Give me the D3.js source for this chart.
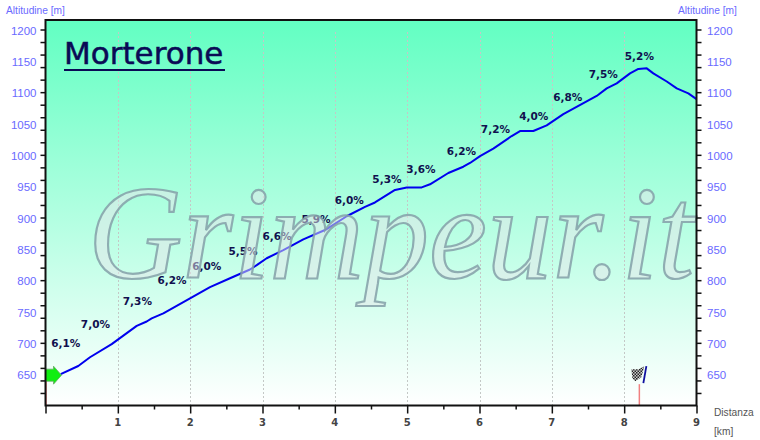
<!DOCTYPE html>
<html><head><meta charset="utf-8">
<script src="https://cdn.jsdelivr.net/npm/d3@7/dist/d3.min.js"></script>
<style>html,body{margin:0;padding:0;background:#fff}svg{display:block}</style>
</head><body><div id="c"></div>
<script>
const title = "Morterone";
const watermark = "Grimpeur.it";
const distanceKm = [0.21,0.453,0.615,0.915,1.261,1.399,1.468,1.629,1.998,2.274,2.551,2.827,2.92,3.058,3.288,3.564,3.864,4.164,4.417,4.555,4.832,4.994,5.201,5.316,5.569,5.776,5.869,6.007,6.191,6.445,6.56,6.744,6.929,7.159,7.62,7.759,7.897,8.081,8.196,8.312,8.403,8.589,8.727,8.887,9];
const altitudeM = [650,663,677,698,727,734,739,747,771,789,803,817,824,835,848,865,880,902,917,924,944,948,948,953,971,981,987,998,1010,1030,1038,1038,1047,1065,1094,1106,1114,1130,1137,1138,1130,1117,1106,1098,1089];
const gradeLabels = ["6,1%","7,0%","7,3%","6,2%","6,0%","5,5%","6,6%","5,9%","6,0%","5,3%","3,6%","6,2%","7,2%","4,0%","6,8%","7,5%","5,2%"];
const gradeKm = [0.28,0.69,1.27,1.75,2.23,2.73,3.20,3.74,4.20,4.72,5.19,5.75,6.22,6.75,7.22,7.71,8.21];
const gradeAlt = [700,730,766,800,823,847,871,898,928,961,977,1006,1041,1062,1092,1129,1158];
const yLabelTicks = [650,700,750,800,850,900,950,1000,1050,1100,1150,1200];
const yMinorTicks = d3.range(620,1201,20);
const xLabelTicks = [1,2,3,4,5,6,7,8,9];
const xMinorTicks = d3.range(0,9.01,0.5);
const startKm = 0, finishKm = 8.21, flagAlt = 650;

const W=760,H=440;
const x=d3.scaleLinear().domain([0,9]).range([45.5,696.5]);
const y=d3.scaleLinear().domain([600,1200]).range([405.5,29.5]);
const plotTop=20, plotBottom=y(600);
const svg=d3.select("#c").append("svg").attr("width",W).attr("height",H);
const defs=svg.append("defs");
const g=defs.append("linearGradient").attr("id","bg").attr("x1",0).attr("y1",0).attr("x2",0).attr("y2",1);
g.append("stop").attr("offset",0).attr("stop-color","#62ffc2");
g.append("stop").attr("offset",1).attr("stop-color","#ffffff");
const p=defs.append("pattern").attr("id","chk").attr("width",3).attr("height",3).attr("patternUnits","userSpaceOnUse");
p.append("rect").attr("width",3).attr("height",3).attr("fill","#ccc");
p.append("rect").attr("width",1.5).attr("height",1.5).attr("fill","#222");
p.append("rect").attr("x",1.5).attr("y",1.5).attr("width",1.5).attr("height",1.5).attr("fill","#222");

svg.append("rect").attr("x",x(0)).attr("y",plotTop).attr("width",x(9)-x(0)).attr("height",plotBottom-plotTop).attr("fill","url(#bg)");

// gridlines
svg.append("g").selectAll("line").data(xLabelTicks.slice(0,-1)).join("line")
 .attr("x1",d=>Math.round(x(d))+0.5).attr("x2",d=>Math.round(x(d))+0.5).attr("y1",32).attr("y2",plotBottom)
 .attr("stroke","#c4c8c6").attr("stroke-width",1).attr("stroke-dasharray","2,2");

// profile
const line=d3.line().x((d,i)=>x(distanceKm[i])).y(d=>y(d));
svg.append("path").datum(altitudeM).attr("d",line).attr("fill","none").attr("stroke","#0000ee").attr("stroke-width",2).attr("stroke-linejoin","round");

// grade labels
svg.append("g").selectAll("text").data(gradeLabels).join("text")
 .attr("x",(d,i)=>x(gradeKm[i])).attr("y",(d,i)=>y(gradeAlt[i])+4)
 .attr("text-anchor","middle").attr("font-family","'DejaVu Sans'").attr("font-weight","bold")
 .attr("font-size",10.5).attr("fill","#10104e").text(d=>d);

// watermark
svg.append("text").attr("x",88).attr("y",278).text(watermark)
 .attr("font-family","'Liberation Serif'").attr("font-style","italic").attr("font-size",134)
 .attr("textLength",606).attr("lengthAdjust","spacingAndGlyphs")
 .attr("fill","#e6e6ea").attr("fill-opacity",0.5).attr("stroke","#84a0a8").attr("stroke-width",2.2).attr("stroke-opacity",0.85);

// title
svg.append("text").attr("x",64).attr("y",64).text(title)
 .attr("font-family","'DejaVu Sans'").attr("font-size",31).attr("fill","#0a0a55").attr("stroke","#0a0a55").attr("stroke-width",0.5);
svg.append("line").attr("x1",64).attr("x2",225).attr("y1",70).attr("y2",70).attr("stroke","#0a0a55").attr("stroke-width",2);

// start marker
svg.append("line").attr("x1",x(startKm)+0.5).attr("x2",x(startKm)+0.5).attr("y1",y(640)).attr("y2",plotBottom).attr("stroke","#f08080").attr("stroke-width",1.5);
svg.append("path").attr("transform",`translate(${x(startKm)},${y(650)+1})`)
 .attr("d",d3.line()([[0,-6],[8,-6],[8,-9],[16,0],[8,9],[8,6],[0,6]]))
 .attr("fill","#11ee11").attr("stroke","#66aa66").attr("stroke-width",0.8);

// finish marker
const fx=x(finishKm), fy=y(flagAlt);
svg.append("line").attr("x1",fx).attr("x2",fx).attr("y1",fy+10).attr("y2",plotBottom).attr("stroke","#f08080").attr("stroke-width",1.5);
svg.append("path").attr("d",`M${fx-8},${fy-5} L${fx-1},${fy-5} L${fx+5},${fy-8} L${fx+2},${fy+3} L${fx-4},${fy+7} L${fx-7},${fy+4}Z`).attr("fill","url(#chk)");
svg.append("line").attr("x1",fx+7).attr("x2",fx+4).attr("y1",fy-8).attr("y2",fy+9).attr("stroke","#1010a0").attr("stroke-width",1.8);

// frame
svg.append("rect").attr("x",x(0)).attr("y",plotTop).attr("width",x(9)-x(0)).attr("height",plotBottom-plotTop)
 .attr("fill","none").attr("stroke","#111").attr("stroke-width",2);

// axes
function styleAxis(sel){sel.select(".domain").remove();sel.selectAll("line").attr("stroke","#111").attr("stroke-width",1.5);}
const axL=d3.axisLeft(y).tickValues(yMinorTicks).tickSize(5).tickFormat("");
const axR=d3.axisRight(y).tickValues(yMinorTicks).tickSize(5).tickFormat("");
svg.append("g").attr("transform",`translate(${x(0)},0)`).call(axL).call(styleAxis);
svg.append("g").attr("transform",`translate(${x(9)},0)`).call(axR).call(styleAxis);
const axB=d3.axisBottom(x).tickValues(xMinorTicks).tickSize(5).tickFormat("");
svg.append("g").attr("transform",`translate(0,${plotBottom})`).call(axB).call(styleAxis)
 .selectAll("line").attr("y2",d=>Number.isInteger(d)?8:4);

const blue="#6a6aff";
function yLabels(px,anchor){
 svg.append("g").selectAll("text").data(yLabelTicks).join("text")
  .attr("x",px).attr("y",d=>y(d)+5).attr("text-anchor",anchor)
  .attr("font-family","'Liberation Sans'").attr("font-size",11.5).attr("fill",blue).text(d=>d);
}
yLabels(36.5,"end"); yLabels(707,"start");
svg.append("g").selectAll("text").data(xLabelTicks).join("text")
 .attr("x",d=>x(d)).attr("y",426).attr("text-anchor","middle")
 .attr("font-family","'DejaVu Sans'").attr("font-weight","bold").attr("font-size",10).attr("fill","#444").text(d=>d);
const small=(t,px,py,c,a)=>svg.append("text").attr("x",px).attr("y",py).attr("text-anchor",a||"start")
 .attr("font-family","'Liberation Sans'").attr("font-size",10.2).attr("fill",c).text(t);
small("Altitudine [m]",6,14,blue); small("Altitudine [m]",678,14,blue);
small("Distanza",714,416,"#555"); small("[km]",714,435,"#555");
</script></body></html>
